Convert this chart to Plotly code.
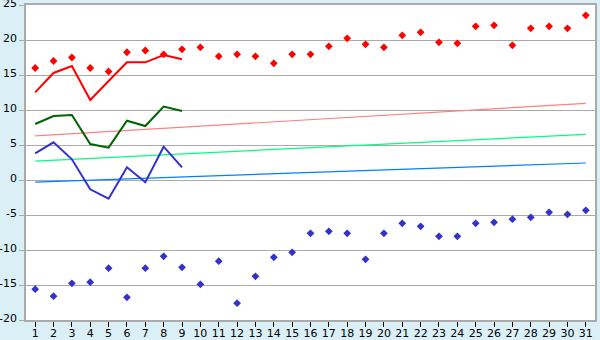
import plotly.graph_objects as go

days = list(range(1, 32))
max_pts = [16.0, 17.0, 17.5, 16.0, 15.5, 18.25, 18.5, 17.95, 18.67, 18.95, 17.67, 17.95, 17.67, 16.67, 17.95, 17.95,
           19.1, 20.24, 19.38, 18.95, 20.67, 21.1, 19.67, 19.52, 21.95, 22.1, 19.24, 21.67, 21.95, 21.67, 23.52]
min_pts = [-15.6, -16.6, -14.76, -14.6, -12.6, -16.76, -12.6, -10.9, -12.47, -14.9, -11.6, -17.6, -13.76, -11.04,
           -10.33, -7.62, -7.33, -7.62, -11.33, -7.62, -6.19, -6.62, -8.05, -8.05, -6.19, -6.05, -5.6, -5.33,
           -4.62, -4.9, -4.33]
line_days = list(range(1, 10))
max_line = [12.52, 15.29, 16.29, 11.43, 14.15, 16.81, 16.81, 17.86, 17.24]
mean_line = [8.0, 9.14, 9.29, 5.14, 4.62, 8.47, 7.71, 10.48, 9.86]
min_line = [3.81, 5.38, 2.95, -1.33, -2.67, 1.81, -0.33, 4.76, 1.81]
trend_days = [1, 31]
max_trend = [6.29, 10.95]
mean_trend = [2.71, 6.52]
min_trend = [-0.29, 2.43]
y_ticks = [-20, -15, -10, -5, 0, 5, 10, 15, 20, 25]
y_labels = ["-20", "-15", "-10", "-5", "0", "5", "10", "15", "20", "25"]

fig = go.Figure()
fig.add_trace(go.Scatter(x=trend_days, y=max_trend, mode="lines", line=dict(color="#ff8080", width=1.2)))
fig.add_trace(go.Scatter(x=trend_days, y=mean_trend, mode="lines", line=dict(color="#00ff80", width=1.2)))
fig.add_trace(go.Scatter(x=trend_days, y=min_trend, mode="lines", line=dict(color="#0080ff", width=1.2)))
fig.add_trace(go.Scatter(x=line_days, y=max_line, mode="lines", line=dict(color="#ff0000", width=2)))
fig.add_trace(go.Scatter(x=line_days, y=mean_line, mode="lines", line=dict(color="#006400", width=2)))
fig.add_trace(go.Scatter(x=line_days, y=min_line, mode="lines", line=dict(color="#3333cc", width=2)))
fig.add_trace(go.Scatter(x=days, y=max_pts, mode="markers",
                         marker=dict(symbol="diamond", size=6, color="#ff0000")))
fig.add_trace(go.Scatter(x=days, y=min_pts, mode="markers",
                         marker=dict(symbol="diamond", size=6, color="#3333cc")))

fig.update_layout(
    width=600, height=340,
    margin=dict(l=26, r=5, t=5, b=20),
    paper_bgcolor="#daf0f6", plot_bgcolor="#ffffff",
    showlegend=False,
    font=dict(family="DejaVu Sans", size=11, color="#000000"),
)
fig.update_xaxes(range=[0.5, 31.5], tickmode="array", tickvals=days, ticktext=[str(d) for d in days],
                 showgrid=False, zeroline=False, showline=True, linecolor="#aaaaaa", linewidth=1.5, mirror=True,
                 ticks="outside", ticklen=5, tickcolor="#000000", tickfont=dict(size=11), automargin=False,
                 ticklabelstandoff=-3, ticklabeloverflow="allow")
fig.update_yaxes(range=[-20, 25], tickmode="array", tickvals=y_ticks, ticktext=y_labels,
                 showgrid=True, gridcolor="#aaaaaa", gridwidth=1,
                 zeroline=False, showline=True, linecolor="#aaaaaa", linewidth=1.5, mirror=True,
                 ticks="outside", ticklen=5, tickcolor="#aaaaaa", tickfont=dict(size=11), automargin=False,
                 ticklabelshift=-2, ticklabeloverflow="allow")
fig.write_html("out.html")
